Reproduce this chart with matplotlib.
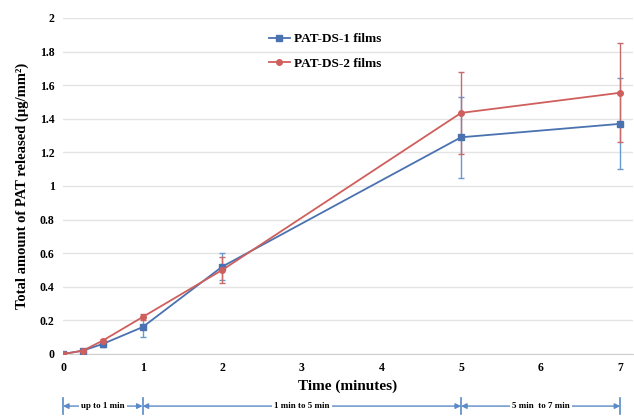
import matplotlib
matplotlib.use("Agg")
import matplotlib.pyplot as plt
from matplotlib.ticker import FuncFormatter

# data
tempo = [0, 0.25, 0.5, 1, 2, 5, 7]
ds1 = [0, 0.02, 0.06, 0.16, 0.52, 1.29, 1.37]
ds1_err = [0, 0.005, 0.02, 0.06, 0.08, 0.24, 0.27]
ds2 = [0, 0.02, 0.08, 0.22, 0.50, 1.435, 1.555]
ds2_err = [0, 0.005, 0.01, 0.02, 0.075, 0.245, 0.295]

faixas = [(0, 1, "up to 1 min"), (1, 5, "1 min to 5 min"), (5, 7, "5 min  to 7 min")]

plt.rcParams["font.family"] = ["Liberation Serif", "DejaVu Serif"]
plt.rcParams["font.weight"] = "bold"

azul = "#4a72b0"
vermelho = "#cf5f5d"
seta = "#5b8ac6"

fig = plt.figure(figsize=(6.34, 4.16), dpi=100)
ax = fig.add_axes([63 / 634, 62 / 416, 570 / 634, 336 / 416])

c1 = ax.errorbar(tempo, ds1, yerr=ds1_err, color=azul, marker="s", markersize=4.5,
                 linewidth=1.3, elinewidth=1, capsize=2.5, ecolor="#6a98d0",
                 label="PAT-DS-1 films", zorder=3)
c2 = ax.errorbar(tempo, ds2, yerr=ds2_err, color=vermelho, marker="o", markersize=4,
                 linewidth=1.3, elinewidth=1, capsize=2.5, ecolor="#c86a68",
                 label="PAT-DS-2 films", zorder=3)

ax.set_xlim(0, 7.16)
ax.set_ylim(0, 2)
ax.set_xticks(range(0, 8))
ax.set_yticks([0, 0.2, 0.4, 0.6, 0.8, 1, 1.2, 1.4, 1.6, 1.8, 2])
ax.yaxis.set_major_formatter(FuncFormatter(lambda v, p: f"{v:g}"))
ax.tick_params(length=0, labelsize=8.5, pad=6)
for lab in ax.get_xticklabels() + ax.get_yticklabels():
    lab.set_fontweight("bold")

ax.grid(axis="y", color="#e4e4e4", linewidth=1)
ax.set_axisbelow(True)
for s in ["top", "right", "left"]:
    ax.spines[s].set_visible(False)
ax.spines["bottom"].set_color("#d0d0d0")

ax.set_xlabel("Time (minutes)", fontsize=11, fontweight="bold", labelpad=4)
ax.set_ylabel("Total amount of PAT released (\u00b5g/mm\u00b2)", fontsize=10.5,
              fontweight="bold", labelpad=8)

ax.legend(handles=[c1[0], c2[0]], labels=["PAT-DS-1 films", "PAT-DS-2 films"],
          loc="upper left", bbox_to_anchor=(0.34, 0.99), frameon=False,
          prop={"size": 9.5, "weight": "bold"}, handlelength=1.6,
          handletextpad=0.3, labelspacing=0.9)

# faixas de tempo abaixo do eixo
trans = ax.get_xaxis_transform()
yb = -0.155
for x0, x1, txt in faixas:
    ax.annotate("", xy=(x0, yb), xytext=(x1, yb), xycoords=trans,
                arrowprops=dict(arrowstyle="<|-|>", color=seta, lw=1,
                                mutation_scale=8, shrinkA=0, shrinkB=0),
                annotation_clip=False)
    ax.text((x0 + x1) / 2, yb, txt, transform=trans, ha="center", va="center",
            fontsize=6.5, fontweight="bold", clip_on=False,
            bbox=dict(facecolor="white", edgecolor="none", pad=1.5))
for xv in [0, 1, 5, 7]:
    ax.plot([xv, xv], [yb - 0.025, yb + 0.025], transform=trans, color=seta,
            lw=1.2, clip_on=False)

fig.savefig("out.png", dpi=100)
